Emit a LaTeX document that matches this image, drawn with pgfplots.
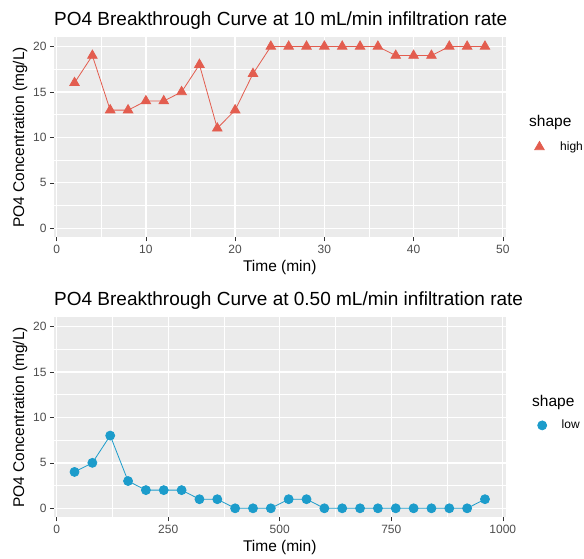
\documentclass[border=0pt]{standalone}
\usepackage{pgfplots}
\pgfplotsset{compat=1.18}
\usepackage{fontspec}
\setmainfont{Liberation Sans}

\definecolor{panelbg}{HTML}{EBEBEB}
\definecolor{ticktxt}{HTML}{4D4D4D}
\definecolor{tickcol}{HTML}{333333}
\definecolor{highcol}{HTML}{E35D4F}
\definecolor{lowcol}{HTML}{1C9CCB}

\tikzset{
  ggtitle/.style={anchor=west, inner sep=0pt, font=\fontsize{19}{19}\selectfont},
  ggshape/.style={anchor=west, inner sep=0pt, font=\fontsize{15.5}{15.5}\selectfont},
}

\pgfplotsset{
  ggstyle/.style={
    scale only axis, width=451.5pt, height=200pt, clip=false,
    axis background/.style={fill=panelbg},
    axis line style={draw=none},
    grid=both,
    major grid style={white, line width=1.3pt},
    minor grid style={white, line width=0.6pt},
    minor tick num=1,
    tick align=outside,
    major tick length=4pt, minor tick length=0pt,
    tick style={tickcol, line width=0.6pt},
    xtick pos=bottom, ytick pos=left,
    /pgf/number format/assume math mode=true,
    /pgf/number format/1000 sep={},
    ticklabel style={font=\fontsize{12}{12}\selectfont, text=ticktxt},
    ymin=-1, ymax=21, ytick={0,5,10,15,20},
    xlabel style={at={(axis description cs:0.5,-0.15)}, anchor=center, font=\fontsize{15.5}{15.5}\selectfont},
    ylabel style={at={(axis description cs:-0.0753,0.5)}, anchor=center, font=\fontsize{15.5}{15.5}\selectfont},
    legend style={draw=none, fill=none, inner sep=0pt, anchor=west,
      font=\fontsize{12}{12}\selectfont},
    legend cell align=left,
    legend image code/.code={\draw[#1] plot coordinates {(0pt,0pt)};},
  },
}

\begin{document}
\begin{tikzpicture}
% top panel: high infiltration rate
\begin{axis}[ggstyle, at={(54pt,321.6pt)}, anchor=south west,
  xmin=-0.3, xmax=50.3, xtick={0,10,20,30,40,50},
  xlabel={Time (min)}, ylabel={PO4 Concentration (mg/L)},
  legend style={at={(axis description cs:1,0.452)}, xshift=29pt}]
\addplot[highcol, line width=0.8pt, mark=triangle*, mark size=5.5pt] coordinates {
  (2,16) (4,19) (6,13) (8,13) (10,14) (12,14) (14,15) (16,18)
  (18,11) (20,13) (22,17) (24,20) (26,20) (28,20) (30,20) (32,20)
  (34,20) (36,20) (38,19) (40,19) (42,19) (44,20) (46,20) (48,20)
};
\addlegendentry{\hspace*{14pt}high}
\node[ggtitle] at (axis description cs:0,1) [yshift=16.5pt]
  {PO4 Breakthrough Curve at 10 mL/min infiltration rate};
\node[ggshape] at (axis description cs:1,0.573) [xshift=23.5pt] {shape};
\end{axis}
% bottom panel: low infiltration rate
\begin{axis}[ggstyle, at={(54pt,41.6pt)}, anchor=south west,
  xmin=-6, xmax=1006, xtick={0,250,500,750,1000},
  minor xtick={125,375,625,875},
  xlabel={Time (min)}, ylabel={PO4 Concentration (mg/L)},
  legend style={at={(axis description cs:1,0.46)}, xshift=32pt}]
\addplot[lowcol, line width=0.8pt, mark=*, mark size=4.5pt] coordinates {
  (40,4) (80,5) (120,8) (160,3) (200,2) (240,2) (280,2) (320,1)
  (360,1) (400,0) (440,0) (480,0) (520,1) (560,1) (600,0) (640,0)
  (680,0) (720,0) (760,0) (800,0) (840,0) (880,0) (920,0) (960,1)
};
\addlegendentry{\hspace*{13pt}low}
\node[ggtitle] at (axis description cs:0,1) [yshift=16.5pt]
  {PO4 Breakthrough Curve at 0.50 mL/min infiltration rate};
\node[ggshape] at (axis description cs:1,0.573) [xshift=26.5pt] {shape};
\end{axis}
\pgfresetboundingbox
\path[use as bounding box] (0,0) rectangle (584pt,559pt);
\end{tikzpicture}
\end{document}
